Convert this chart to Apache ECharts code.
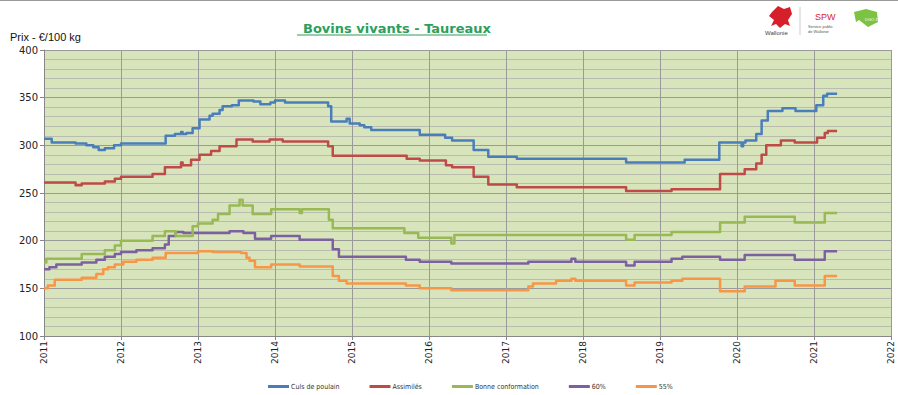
<!DOCTYPE html>
<html><head><meta charset="utf-8">
<script src="https://cdn.jsdelivr.net/npm/echarts@6/dist/echarts.min.js"></script>
<style>html,body{margin:0;padding:0;background:#fff}#c{width:898px;height:395px}</style>
</head><body><div id="c"></div>
<script>
var seriesNames = ['Culs de poulain','Assimilés','Bonne conformation','60%','55%'];
var seriesColors = ['#4a7ebb','#be4b48','#98b954','#7d60a0','#f79646'];
var yearTicks = [2011,2012,2013,2014,2015,2016,2017,2018,2019,2020,2021,2022];

var culsX = [2011.0,2011.10,2011.41,2011.55,2011.64,2011.71,2011.79,2011.91,2012.0,2012.58,2012.70,2012.78,2012.80,2012.85,2012.93,2013.02,2013.15,2013.19,2013.28,2013.32,2013.44,2013.53,2013.72,2013.81,2013.94,2014.0,2014.13,2014.69,2014.73,2014.93,2014.97,2015.10,2015.16,2015.25,2015.88,2016.21,2016.30,2016.58,2016.77,2017.14,2018.56,2019.32,2019.77,2020.06,2020.08,2020.11,2020.25,2020.32,2020.40,2020.59,2020.76,2021.03,2021.12,2021.17,2021.30];
var culsY = [307,303,302,300,298,295,297,300,302,310,312,314,312,313,318,327,331,333,337,341,342,347,346,343,345,347,345,341,325,328,323,321,319,316,311,308,305,295,288,286,282,285,303,299,303,305,312,326,336,339,336,342,352,354,354];

var assX = [2011.0,2011.41,2011.49,2011.79,2011.92,2012.0,2012.41,2012.57,2012.78,2012.80,2012.91,2013.02,2013.17,2013.28,2013.50,2013.71,2013.93,2014.10,2014.69,2014.75,2015.71,2015.88,2016.22,2016.30,2016.58,2016.77,2017.14,2018.56,2019.15,2019.78,2020.10,2020.25,2020.32,2020.38,2020.57,2020.75,2021.04,2021.14,2021.18,2021.30];
var assY = [261,258,260,262,265,267,270,277,282,279,285,290,294,299,306,304,306,304,299,289,286,284,279,277,267,259,256,252,254,270,275,281,290,300,305,303,308,313,315,315];

var bonneX = [2011.0,2011.03,2011.49,2011.79,2011.92,2012.0,2012.41,2012.57,2012.71,2012.93,2013.0,2013.19,2013.26,2013.41,2013.54,2013.58,2013.71,2013.95,2014.32,2014.35,2014.70,2014.75,2015.68,2015.86,2016.29,2016.33,2018.56,2018.67,2019.15,2019.78,2020.10,2020.75,2021.14,2021.30];
var bonneY = [177,181,186,190,195,200,205,210,205,215,218,222,228,237,243,237,228,233,229,233,222,213,208,203,197,206,201,206,209,219,225,219,229,229];

var p60X = [2011.0,2011.07,2011.16,2011.49,2011.68,2011.79,2011.92,2012.0,2012.2,2012.41,2012.57,2012.62,2012.71,2012.81,2013.41,2013.59,2013.74,2013.95,2014.32,2014.75,2014.83,2015.70,2015.88,2016.29,2017.29,2017.85,2017.90,2018.56,2018.67,2019.15,2019.29,2019.78,2020.10,2020.75,2021.14,2021.30];
var p60Y = [170,172,175,177,180,183,186,188,190,192,196,205,209,208,210,208,202,205,201,191,183,180,178,176,178,181,178,174,178,181,183,180,185,180,189,189];

var p55X = [2011.0,2011.05,2011.14,2011.49,2011.68,2011.77,2011.83,2011.92,2012.03,2012.2,2012.41,2012.58,2013.0,2013.19,2013.56,2013.63,2013.67,2013.74,2013.95,2014.32,2014.75,2014.83,2014.93,2015.70,2015.88,2016.29,2017.29,2017.35,2017.65,2017.85,2017.90,2018.56,2018.67,2019.15,2019.29,2019.78,2020.10,2020.50,2020.75,2021.14,2021.30];
var p55Y = [150,153,159,161,165,170,172,175,178,180,182,187,189,188,187,182,179,172,175,173,163,158,155,153,150,148,152,155,158,160,158,153,156,158,160,147,152,158,153,163,163];

// change points -> step polyline (horizontal then vertical at each change date)
function stepPairs(xs, ys){
  var out = [];
  for (var i = 0; i < xs.length; i++) {
    if (i > 0) out.push([xs[i], ys[i-1]]);
    out.push([xs[i], ys[i]]);
  }
  return out;
}
var allData = [stepPairs(culsX,culsY), stepPairs(assX,assY), stepPairs(bonneX,bonneY), stepPairs(p60X,p60Y), stepPairs(p55X,p55Y)];

var chart = echarts.init(document.getElementById('c'), null, {renderer:'svg'});
var staticGraphic = [
  {type:'line', shape:{x1:0,y1:0.5,x2:898,y2:0.5}, style:{stroke:'#999', lineWidth:1}},
  {type:'line', shape:{x1:297,y1:35,x2:487,y2:35}, style:{stroke:'#2e9e5b', lineWidth:1.2}},
  {type:'text', left: 10, top: 31, style:{text:'Prix - €/100 kg', font:'11px "Liberation Sans"', fill:'#111'}},
  {type:'polygon', shape:{points:[[772,12],[778,6],[784,9],[790,7],[792,14],[788,20],[790,26],[785,24],[780,28],[776,24],[771,26],[774,20],[769,16]]}, style:{fill:'#d51f2b'}},
  {type:'text', left: 765, top: 30, style:{text:'Wallonie', font:'6px "Liberation Sans"', fill:'#444'}},
  {type:'line', shape:{x1:800,y1:7,x2:800,y2:35}, style:{stroke:'#ccc', lineWidth:1}},
  {type:'text', left: 815, top: 12, style:{text:'SPW', font:'9px "Liberation Sans"', fill:'#d51f2b'}},
  {type:'text', left: 808, top: 24, style:{text:'Service public\nde Wallonie', font:'4px "Liberation Sans"', fill:'#555', lineHeight:5}},
  {type:'polygon', shape:{points:[[854,12],[866,9],[877,12],[878,22],[868,27],[859,20],[856,22]]}, style:{fill:'#7dc242'}},
  {type:'text', left: 865, top: 17, style:{text:'DGO 3', font:'4px "Liberation Sans"', fill:'#fff'}}
];
var option = {
  animation: false,
  backgroundColor: '#ffffff',
  title: {
    text: 'Bovins vivants - Taureaux',
    left: 392, top: 17, textAlign: 'center',
    textStyle: {color:'#2e9e5b', fontSize: 13, fontWeight:'bold', fontFamily:'DejaVu Sans'}
  },
  legend: {
    data: seriesNames, top: 383, left: 268, padding: 0,
    icon: 'rect', itemWidth: 21, itemHeight: 3, itemGap: 30,
    textStyle: {fontSize: 7, color:'#333', padding:[0,0,0,-3], fontFamily:'Liberation Sans Narrow, DejaVu Sans Condensed, sans-serif'}
  },
  grid: {left: 44, right: 7, top: 50, bottom: 59, show: true, backgroundColor:'#d8e4bc', borderWidth: 0},
  xAxis: {
    type: 'value', min: 2011, max: 2022, interval: 1,
    axisLine: {show:true, lineStyle:{color:'#888', width:1}},
    axisTick: {show:true, length:4, lineStyle:{color:'#888'}},
    axisLabel: {show:true, rotate: 90, fontSize: 9, color:'#222', margin: 5, fontFamily:'DejaVu Sans',
      formatter: function(v){ return String(v); }},
    splitLine: {show:true, lineStyle:{color:'#9a9a9a', width:1}}
  },
  yAxis: {
    type: 'value', min: 100, max: 400, interval: 50,
    axisLine: {show:true, lineStyle:{color:'#888'}},
    axisTick: {show:true, length:4, lineStyle:{color:'#888'}},
    axisLabel: {fontSize: 10, color:'#222', margin: 6, fontFamily:'DejaVu Sans'},
    splitLine: {show:true, lineStyle:{color:'#9a9a9a', width:1.2}},
    minorTick: {show:false, splitNumber:5},
    minorSplitLine: {show:true, lineStyle:{color:'#b9bdb0', width:1}}
  },
  series: seriesNames.map(function(n,i){
    return {
      name: n, type: 'line', data: allData[i],
      showSymbol: false, symbol: 'none',
      lineStyle: {width: 2.5, color: seriesColors[i], join:'round'},
      itemStyle: {color: seriesColors[i]},
      z: 10 - i
    };
  }),
  graphic: staticGraphic
};
chart.setOption(option);
</script></body></html>
